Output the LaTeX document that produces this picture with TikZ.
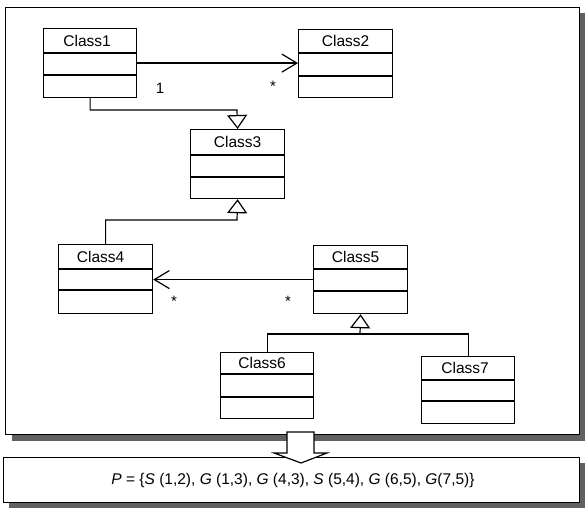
\documentclass[tikz,border=0pt]{standalone}
\usepackage{fontspec}
\setmainfont{Liberation Sans}
\usetikzlibrary{arrows.meta,calc}
\tikzset{
  line/.style={line width=1.2pt, line join=miter},
  classbox/.style={draw, line width=1.2pt, fill=white, rectangle, anchor=north west, inner sep=0pt},
  classname/.style={font=\fontsize{15.5}{18}\selectfont, inner sep=0pt},
  mult/.style={font=\fontsize{15}{18}\selectfont, inner sep=0pt},
  assoc/.style={line, -{Straight Barb[length=15pt, width=18pt, line width=1.2pt]}},
  gen/.style={line, -{Triangle[open, length=14pt, width=20pt, fill=white, line width=1.2pt]}},
  shadow/.style={fill=black!62, draw=none},
  panel/.style={draw, line width=1.4pt, fill=white, rectangle, anchor=north west, inner sep=0pt},
}
% #1 name, #2 x, #3 y (top left), #4 width, #5 height,
% #6 first compartment line, #7 second compartment line (offsets from top),
% #8 label x offset, #9 label text
\newcommand\umlclass[9]{%
  \node[classbox, minimum width=#4pt, minimum height=#5pt] (#1) at (#2,#3) {};
  \draw[line] ($(#1.north west)+(0,#6)$) -- ($(#1.north east)+(0,#6)$);
  \draw[line] ($(#1.north west)+(0,#7)$) -- ($(#1.north east)+(0,#7)$);
  \node[classname] (#1-name) at ($(#1.north)+(#8,{#6/2})$) {#9};
}
\begin{document}
\begin{tikzpicture}[x=1pt, y=-1pt]
  \useasboundingbox (0,0) rectangle (585,508);

  % drop shadows and panels
  \fill[shadow] (12,13) rectangle (585,441);
  \node[panel, minimum width=574pt, minimum height=427pt] (diagram) at (5,7) {};
  \fill[shadow] (9,463) rectangle (585,508);
  \node[panel, minimum width=576pt, minimum height=45pt] (formula) at (3,457) {};

  % classes
  \umlclass{c1}{43}{28}{93}{69}{25}{47}{-3}{Class1}
  \umlclass{c2}{298}{29}{94}{68}{24}{47}{0}{Class2}
  \umlclass{c3}{190}{129}{94}{69}{26}{48}{0}{Class3}
  \umlclass{c4}{58}{244}{94}{69}{25}{46}{-5}{Class4}
  \umlclass{c5}{313}{245}{94}{68}{24}{46}{-5}{Class5}
  \umlclass{c6}{220}{352}{93}{66}{22}{45}{-5}{Class6}
  \umlclass{c7}{421}{356}{93}{67}{24}{45}{-3}{Class7}

  % associations
  \draw[assoc] (c1.east) -- (c1.east -| c2.west);
  \node[mult] (m1) at (160,88) {1};
  \node[mult] (m2) at (273,86) {*};
  \draw[assoc] (c5.west) -- (c5.west -| c4.east);
  \node[mult] (m3) at (174,301) {*};
  \node[mult] (m4) at (288,301) {*};

  % generalizations
  \coordinate (j1) at (237,110);
  \draw[gen] (c1.south) |- (j1) -- (c3.north);
  \coordinate (j2) at (237,220);
  \draw[gen] (c4.north) |- (j2) -- (c3.south);
  \coordinate (j3) at (360,334);
  \draw[gen] (j3) -- (c5.south);
  \draw[line] (c6.north) |- (j3);
  \draw[line] (c7.north) |- (j3);

  % block arrow between the two panels
  \draw[line, fill=white] (287,432) -- (314,432) -- (314,453) -- (327,453)
    -- (301,463) -- (274,453) -- (287,453) -- cycle;

  \node[font=\fontsize{15.5}{18}\selectfont, inner sep=0pt] (set) at (293,480)
    {\textit{P} = \{\textit{S} (1,2), \textit{G} (1,3), \textit{G} (4,3), \textit{S} (5,4), \textit{G} (6,5), \textit{G}(7,5)\}};
\end{tikzpicture}
\end{document}
